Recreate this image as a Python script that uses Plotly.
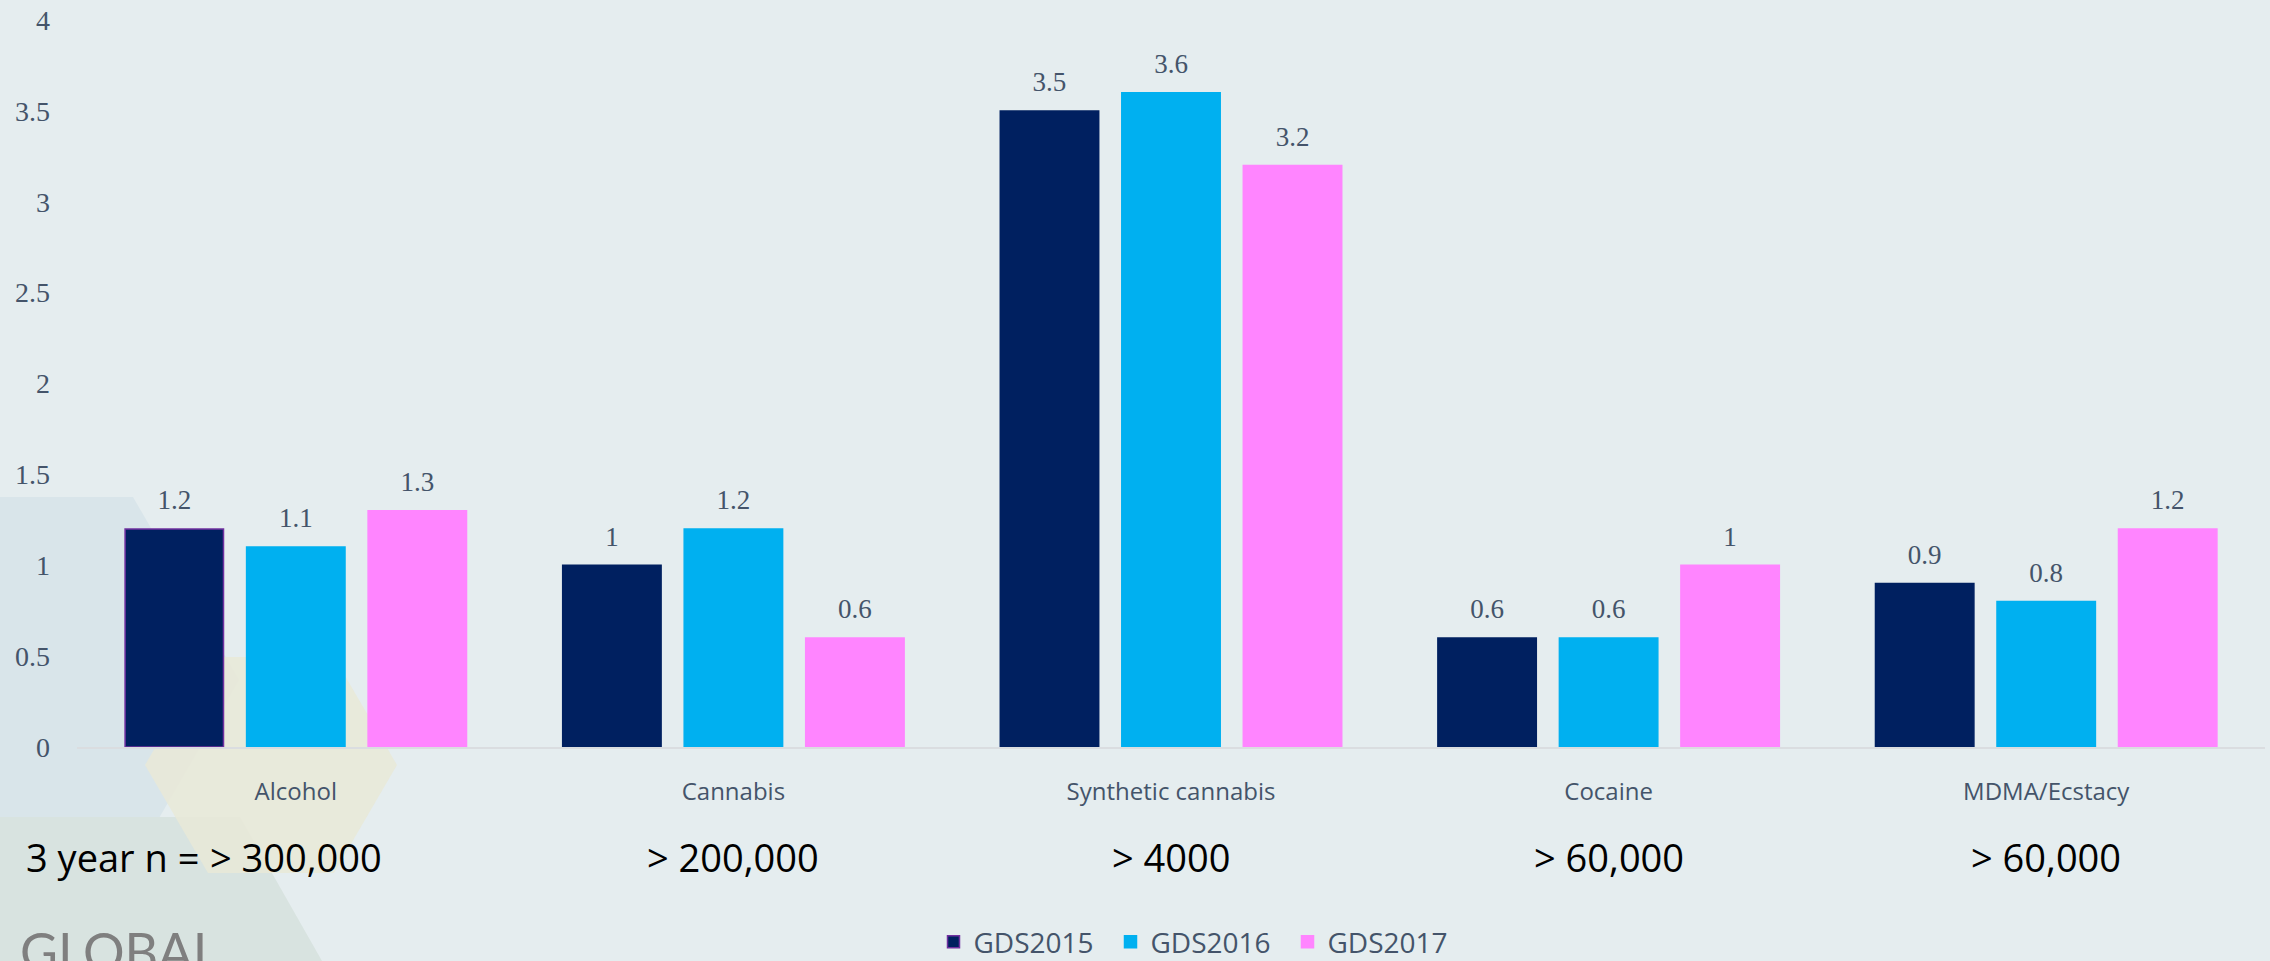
import plotly.graph_objects as go

# Substances
substances = ['Alcohol', 'Cannabis', 'Synthetic cannabis', 'Cocaine', 'MDMA/Ecstacy']

# Values per survey year
gds2015 = [1.2, 1.0, 3.5, 0.6, 0.9]
gds2016 = [1.1, 1.2, 3.6, 0.6, 0.8]
gds2017 = [1.3, 0.6, 3.2, 1.0, 1.2]

# Sample sizes shown under each group
sample_sizes = ['> 300,000', '> 200,000', '> 4000', '> 60,000', '> 60,000']

y_ticks = [0, 0.5, 1, 1.5, 2, 2.5, 3, 3.5, 4]

navy = '#002060'
cyan = '#00B0F0'
pink = '#FF85FF'
text_grey = '#44546A'
bg = '#E5EDEF'

# plot area in page pixels (used to place decorations)
W, H = 2270, 961
L, R, T, B = 77, 5, 20, 214
pw, ph = W - L - R, H - T - B
GAP = 0.167


def px(x):
    return (x - L) / pw


def py(y):
    return (H - B - y) / ph


def hex_path(pts):
    return 'M ' + ' L '.join(f'{px(a)},{py(b)}' for a, b in pts) + ' Z'


fig = go.Figure()

series = [('GDS2015', gds2015, navy), ('GDS2016', gds2016, cyan), ('GDS2017', gds2017, pink)]
for name, vals, col in series:
    line_col = col
    if name == 'GDS2015':
        line_col = ['#7030A0'] + [navy] * (len(vals) - 1)
    fig.add_trace(go.Bar(
        x=substances, y=vals, name=name, offsetgroup=name,
        marker=dict(color=col, line=dict(color=line_col, width=1.5)),
    ))

# value labels, grouped like the bars, lifted with an invisible marker
for name, vals, col in series:
    fig.add_trace(go.Scatter(
        x=substances, y=vals, mode='markers+text', offsetgroup=name,
        text=[f'{v:g}' for v in vals], textposition='top center',
        marker=dict(size=19, opacity=0), showlegend=False, hoverinfo='skip',
        cliponaxis=False,
        textfont=dict(family='Liberation Serif', size=27, color=text_grey),
    ))

# background hexagons
shapes = [
    dict(type='path', path=hex_path([(-80, 497), (133, 497), (239, 680), (133, 863), (-80, 863)]),
         fillcolor='#D9E5EA', line=dict(width=0), layer='below', xref='paper', yref='paper'),
    dict(type='path', path=hex_path([(-80, 817), (240, 817), (330, 975), (-80, 975)]),
         fillcolor='#D8E3E0', line=dict(width=0), layer='below', xref='paper', yref='paper'),
    dict(type='path', path=hex_path([(145, 765), (208, 657), (334, 657), (397, 765), (334, 873), (208, 873)]),
         fillcolor='rgba(233,233,215,0.85)', line=dict(width=0), layer='below', xref='paper', yref='paper'),
]

annotations = []
for cat, n in zip(substances, sample_sizes):
    annotations.append(dict(x=cat, y=py(857), xref='x', yref='paper', text=n, showarrow=False,
                            font=dict(family='Open Sans', size=38, color='black'),
                            xanchor='center', yanchor='middle'))
annotations.append(dict(x=substances[0], y=py(857), xref='x', yref='paper', text='3 year n =',
                        showarrow=False, xshift=-95, xanchor='right', yanchor='middle',
                        font=dict(family='Open Sans', size=38, color='black')))
annotations.append(dict(x=px(18), y=py(918), xref='paper', yref='paper', text='GLOBAL',
                        showarrow=False, xanchor='left', yanchor='top',
                        font=dict(family='Lato', size=52, color='#7F7F7F')))

fig.update_layout(
    width=W, height=H,
    margin=dict(l=L, r=R, t=T, b=B, autoexpand=False),
    paper_bgcolor=bg, plot_bgcolor='rgba(0,0,0,0)',
    barmode='group', bargap=GAP, bargroupgap=0.19,
    scattermode='group', scattergap=GAP,
    shapes=shapes, annotations=annotations,
    showlegend=True,
    legend=dict(orientation='h', x=px(1199), xanchor='center', y=py(942), yanchor='middle',
                font=dict(family='Open Sans', size=28, color=text_grey),
                entrywidth=132, bgcolor='rgba(0,0,0,0)'),
)

fig.update_xaxes(range=[-0.5, len(substances) - 0.5], showgrid=False, showline=True,
                 linecolor='#DADDE0', linewidth=2,
                 tickfont=dict(family='Open Sans', size=24, color=text_grey),
                 ticklabelstandoff=22, automargin=False)
fig.update_yaxes(range=[0, 4], tickvals=y_ticks, showgrid=False, zeroline=False,
                 tickfont=dict(family='Liberation Serif', size=28, color=text_grey),
                 ticklabelstandoff=26, automargin=False)

# drop the browser's default body margin so the chart sits at the page corner
fig.write_html('out.html', config={'displayModeBar': False},
               post_script="document.body.style.margin='0';")
